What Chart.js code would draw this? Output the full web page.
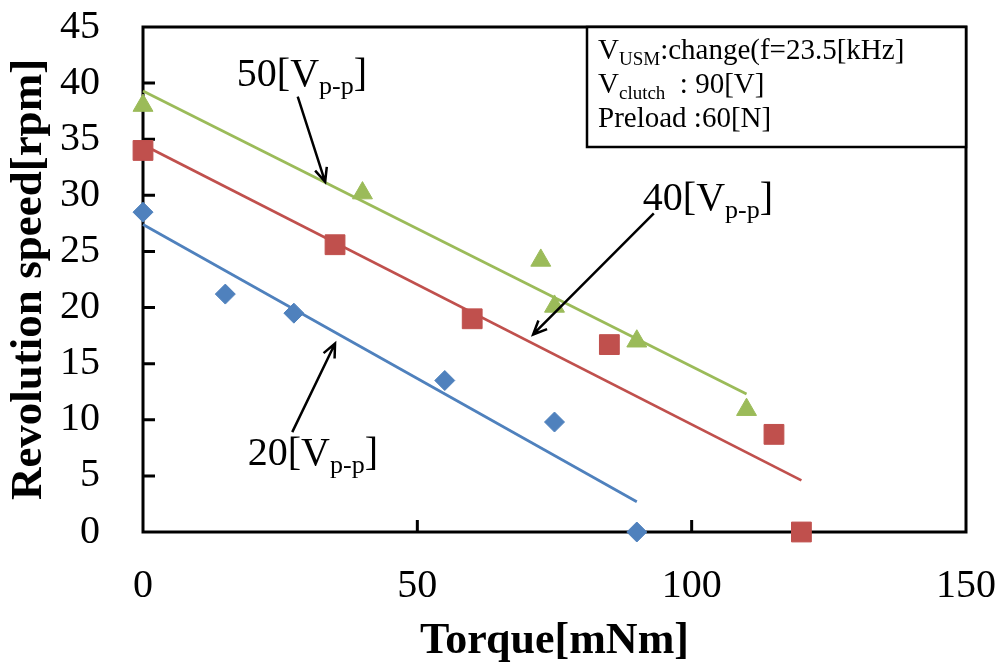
<!DOCTYPE html>
<html>
<head>
<meta charset="utf-8">
<title>Revolution speed vs Torque</title>
<script src="https://cdn.jsdelivr.net/npm/chart.js@4.4.1/dist/chart.umd.min.js"></script>
<style>
    html, body { margin: 0; padding: 0; background: #fff; }
    #wrap { width: 1003px; height: 670px; }
</style>
</head>
<body>
<div id="wrap"><canvas id="speedChart" width="1003" height="670"></canvas></div>
<script>
/**
 * Revolution speed against load torque for three drive voltages
 */

// Measured points, 20 Vp-p
const torque20 = [0, 15, 27.5, 55, 75, 90];
const speed20 = [28.5, 21.2, 19.5, 13.5, 9.8, 0];

// Measured points, 40 Vp-p
const torque40 = [0, 35, 60, 85, 115, 120];
const speed40 = [34, 25.6, 19, 16.7, 8.7, 0];

// Measured points, 50 Vp-p
const torque50 = [0, 40, 72.5, 75, 90, 110];
const speed50 = [38, 30.2, 24.2, 20.1, 17, 10.9];

// Linear fit lines (end points)
const fitTorque20 = [0, 90];
const fitSpeed20 = [27.4, 2.7];
const fitTorque40 = [0, 120];
const fitSpeed40 = [34.5, 4.6];
const fitTorque50 = [0, 110];
const fitSpeed50 = [39.3, 12.3];

// Axis ticks
const xTicks = [0, 50, 100, 150];
const yTicks = [0, 5, 10, 15, 20, 25, 30, 35, 40, 45];

// Test conditions shown in the box
const conditionLines = [
    [{ text: 'V' }, { text: 'USM', sub: true }, { text: ':change(f=23.5[kHz]' }],
    [{ text: 'V' }, { text: 'clutch', sub: true }, { text: '  : 90[V]' }],
    [{ text: 'Preload :60[N]' }]
];

// Voltage callouts: label anchor and arrow (torque, speed)
const callouts = [
    { volts: '50', at: [17.1, 39.7], from: [28.2, 38.8], to: [33.2, 31.2] },
    { volts: '40', at: [91.1, 28.7], from: [93.1, 28.4], to: [71.1, 17.6] },
    { volts: '20', at: [19.1, 6.0], from: [27.2, 8.9], to: [35.0, 16.8] }
];

const SERIF = "'Liberation Serif', 'Times New Roman', serif";
const BLUE = '#4F81BD';
const RED = '#C0504D';
const GREEN = '#9BBB59';

const toPoints = (xs, ys) => xs.map((x, i) => ({ x: x, y: ys[i] }));

function markerSet(label, xs, ys, color, style, radius) {
    return {
        label: label,
        data: toPoints(xs, ys),
        showLine: false,
        pointStyle: style,
        pointRadius: radius,
        pointBackgroundColor: color,
        pointBorderColor: color,
        pointBorderWidth: 1,
        clip: false
    };
}

function fitSet(label, xs, ys, color) {
    return {
        label: label,
        data: toPoints(xs, ys),
        showLine: true,
        borderColor: color,
        borderWidth: 2.75,
        pointRadius: 0,
        fill: false,
        clip: false
    };
}

// Draw text made of normal and subscript pieces, returns end x
function drawParts(ctx, x, y, parts, size, subSize, subDrop) {
    let cx = x;
    parts.forEach(p => {
        const fs = p.sub ? subSize : size;
        ctx.font = `${fs}px ${SERIF}`;
        ctx.fillText(p.text, cx, y + (p.sub ? subDrop : 0));
        cx += ctx.measureText(p.text).width;
    });
    return cx;
}

function drawArrow(ctx, x1, y1, x2, y2) {
    const ang = Math.atan2(y2 - y1, x2 - x1);
    const head = 15;
    const spread = 0.42;
    ctx.beginPath();
    ctx.moveTo(x1, y1);
    ctx.lineTo(x2, y2);
    ctx.moveTo(x2 - head * Math.cos(ang - spread), y2 - head * Math.sin(ang - spread));
    ctx.lineTo(x2, y2);
    ctx.lineTo(x2 - head * Math.cos(ang + spread), y2 - head * Math.sin(ang + spread));
    ctx.stroke();
}

// Plot frame and inward tick marks
const framePlugin = {
    id: 'frame',
    beforeDatasetsDraw(chart) {
        const { ctx, chartArea: a, scales: { x, y } } = chart;
        ctx.save();
        ctx.strokeStyle = '#000';
        ctx.lineWidth = 3;
        ctx.strokeRect(a.left, a.top, a.right - a.left, a.bottom - a.top);

        ctx.beginPath();
        yTicks.slice(1, -1).forEach(v => {
            const py = y.getPixelForValue(v);
            ctx.moveTo(a.left, py);
            ctx.lineTo(a.left + 12, py);
        });
        xTicks.slice(1, -1).forEach(v => {
            const px = x.getPixelForValue(v);
            ctx.moveTo(px, a.bottom);
            ctx.lineTo(px, a.bottom - 12);
        });
        ctx.stroke();
        ctx.restore();
    }
};

// Condition box and voltage callouts
const notesPlugin = {
    id: 'notes',
    afterDraw(chart) {
        const { ctx, chartArea: a, scales: { x, y } } = chart;
        ctx.save();
        ctx.fillStyle = '#000';
        ctx.strokeStyle = '#000';
        ctx.textBaseline = 'alphabetic';

        // callouts
        ctx.lineWidth = 2.5;
        callouts.forEach(c => {
            drawArrow(ctx,
                x.getPixelForValue(c.from[0]), y.getPixelForValue(c.from[1]),
                x.getPixelForValue(c.to[0]), y.getPixelForValue(c.to[1]));
            drawParts(ctx, x.getPixelForValue(c.at[0]), y.getPixelForValue(c.at[1]),
                [{ text: c.volts + '[V' }, { text: 'p-p', sub: true }, { text: ']' }], 40, 26, 8);
        });

        // condition box in the top right corner
        const boxW = 379, boxH = 120;
        const bx = a.right - boxW, by = a.top;
        ctx.fillStyle = '#fff';
        ctx.fillRect(bx, by, boxW, boxH);
        ctx.lineWidth = 2.5;
        ctx.strokeRect(bx, by, boxW, boxH);
        ctx.fillStyle = '#000';
        conditionLines.forEach((parts, i) => {
            drawParts(ctx, bx + 11, by + 32 + i * 34, parts, 29, 19, 6);
        });
        ctx.restore();
    }
};

const tickFont = { family: SERIF, size: 40 };

new Chart(document.getElementById('speedChart'), {
    type: 'scatter',
    data: {
        datasets: [
            markerSet('20[Vp-p]', torque20, speed20, BLUE, 'rectRot', 10),
            markerSet('40[Vp-p]', torque40, speed40, RED, 'rect', 14),
            markerSet('50[Vp-p]', torque50, speed50, GREEN, 'triangle', 11.5),
            fitSet('20[Vp-p] fit', fitTorque20, fitSpeed20, BLUE),
            fitSet('40[Vp-p] fit', fitTorque40, fitSpeed40, RED),
            fitSet('50[Vp-p] fit', fitTorque50, fitSpeed50, GREEN)
        ]
    },
    options: {
        responsive: false,
        animation: false,
        layout: { padding: { top: 27, right: 37, bottom: 0, left: 0 } },
        plugins: {
            legend: { display: false },
            tooltip: { enabled: false }
        },
        scales: {
            x: {
                type: 'linear',
                min: 0,
                max: 150,
                afterBuildTicks: axis => { axis.ticks = xTicks.map(v => ({ value: v })); },
                afterFit: axis => {
                    axis.height = 138;
                    axis.paddingLeft = 0;
                    axis.paddingRight = 0;
                },
                grid: { display: false, drawTicks: false },
                border: { display: false },
                ticks: { font: tickFont, color: '#000', padding: 30, maxRotation: 0 },
                title: {
                    display: true,
                    text: 'Torque[mNm]',
                    color: '#000',
                    font: { family: SERIF, size: 44, weight: 'bold' },
                    padding: { top: 0, bottom: 2 }
                }
            },
            y: {
                type: 'linear',
                min: 0,
                max: 45,
                afterBuildTicks: axis => { axis.ticks = yTicks.map(v => ({ value: v })); },
                afterFit: axis => {
                    axis.width = 143;
                    axis.paddingTop = 0;
                    axis.paddingBottom = 0;
                },
                grid: { display: false, drawTicks: false },
                border: { display: false },
                ticks: { font: tickFont, color: '#000', padding: 43 },
                title: {
                    display: true,
                    text: 'Revolution speed[rpm]',
                    color: '#000',
                    font: { family: SERIF, size: 45, weight: 'bold' },
                    padding: { top: 2, bottom: 0 }
                }
            }
        }
    },
    plugins: [framePlugin, notesPlugin]
});
</script>
</body>
</html>
